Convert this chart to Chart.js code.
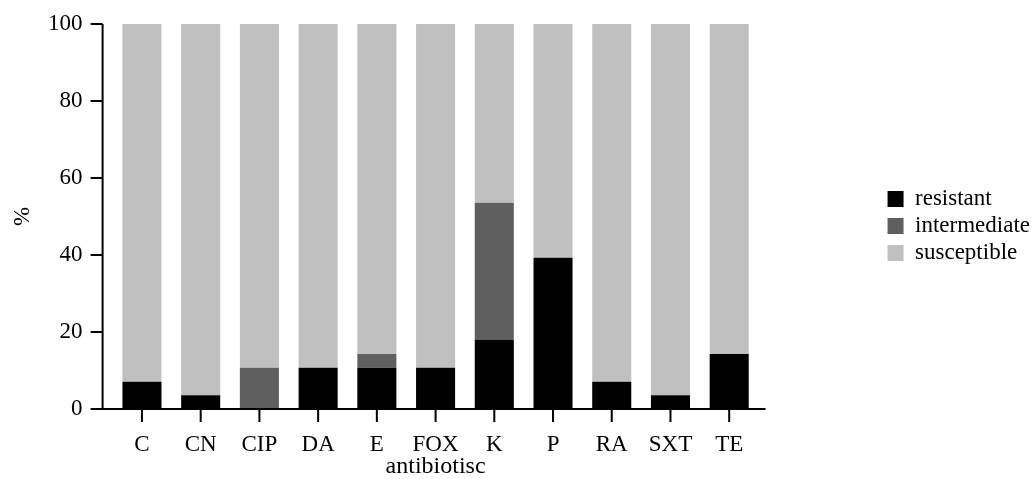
<!DOCTYPE html>
<html>
<head>
<meta charset="utf-8">
<script src="https://cdn.jsdelivr.net/npm/chart.js@4.4.1/dist/chart.umd.min.js"></script>
<style>
  html, body { margin: 0; padding: 0; background: #fff; }
  #wrap { width: 1034px; height: 479px; position: relative; }
</style>
</head>
<body>
<div id="wrap"><canvas id="grafico"></canvas></div>
<script>
const categorias = ['C', 'CN', 'CIP', 'DA', 'E', 'FOX', 'K', 'P', 'RA', 'SXT', 'TE'];
const resistant = [7.1, 3.6, 0, 10.7, 10.7, 10.7, 17.9, 39.3, 7.1, 3.6, 14.3];
const intermediate = [0, 0, 10.7, 0, 3.6, 0, 35.7, 0, 0, 0, 0];
const susceptible = [92.9, 96.4, 89.3, 89.3, 85.7, 89.3, 46.4, 60.7, 92.9, 96.4, 85.7];
const yTicks = [0, 20, 40, 60, 80, 100];

Chart.defaults.font.family = '"Liberation Serif", "Times New Roman", serif';
Chart.defaults.font.size = 23;
Chart.defaults.color = '#000';

// eixos desenhados a mao, afastados da area das barras como no original
const eixos = {
  id: 'eixos',
  afterDatasetsDraw(chart) {
    const { ctx, chartArea, scales } = chart;
    const x = scales.x, y = scales.y;
    const ax = chartArea.left - 10;
    const y0 = y.getPixelForValue(0);
    ctx.save();
    ctx.strokeStyle = '#000';
    ctx.lineWidth = 2;
    ctx.beginPath();
    ctx.moveTo(ax, y.getPixelForValue(100));
    ctx.lineTo(ax, y0);
    yTicks.forEach(v => {
      const py = y.getPixelForValue(v);
      ctx.moveTo(ax - 12, py);
      ctx.lineTo(ax, py);
    });
    ctx.moveTo(ax - 12, y0);
    ctx.lineTo(chartArea.right + 7, y0);
    categorias.forEach((c, i) => {
      const px = x.getPixelForTick(i);
      ctx.moveTo(px, y0);
      ctx.lineTo(px, y0 + 13);
    });
    ctx.stroke();
    ctx.restore();
  }
};

new Chart(document.getElementById('grafico'), {
  type: 'bar',
  data: {
    labels: categorias,
    datasets: [
      { label: 'resistant', data: resistant, backgroundColor: '#000000' },
      { label: 'intermediate', data: intermediate, backgroundColor: '#5f5f5f' },
      { label: 'susceptible', data: susceptible, backgroundColor: '#c0c0c0' }
    ]
  },
  options: {
    responsive: true,
    maintainAspectRatio: false,
    animation: false,
    barPercentage: 0.665,
    categoryPercentage: 1,
    layout: { padding: { top: 24, right: -6, bottom: 0, left: 0 } },
    plugins: {
      tooltip: { enabled: false },
      legend: {
        position: 'right',
        fullSize: false,
        title: { display: true, text: ' ', padding: 0, font: { size: 16 } },
        labels: { boxWidth: 16, boxHeight: 16, padding: 4, font: { size: 23 } }
      }
    },
    scales: {
      x: {
        stacked: true,
        grid: { display: false, drawTicks: true, tickLength: 22 },
        border: { display: false },
        ticks: { padding: 0, maxRotation: 0, autoSkip: false },
        title: { display: true, text: 'antibiotisc', font: { size: 24 }, padding: { top: 0, bottom: -2 } },
        afterFit(s) { s.height = 70; }
      },
      y: {
        stacked: true,
        min: 0,
        max: 100,
        grid: { display: false, drawTicks: true, tickLength: 30 },
        border: { display: false },
        ticks: { stepSize: 20, padding: 0 },
        title: { display: true, text: '%', padding: { top: 9, bottom: 0 } },
        afterFit(s) { s.width = 112.6; }
      },
      folga: {
        type: 'linear',
        position: 'right',
        display: true,
        grid: { display: false, drawTicks: false },
        border: { display: false },
        ticks: { display: false },
        afterFit(s) { s.width = 125; }
      }
    }
  },
  plugins: [eixos]
});
</script>
</body>
</html>
